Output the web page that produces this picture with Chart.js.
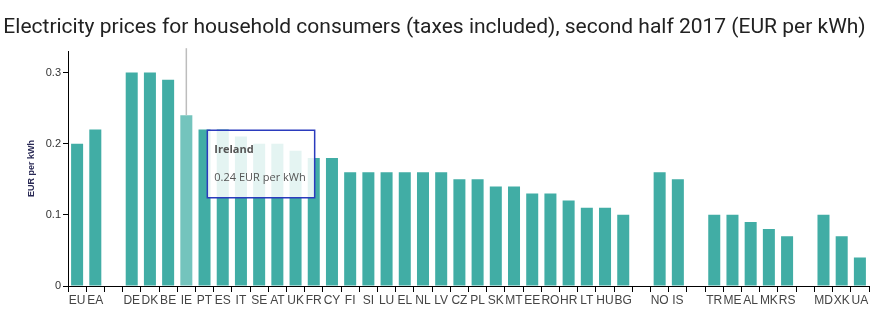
<!DOCTYPE html>
<html>
<head>
<meta charset="utf-8">
<script src="https://cdn.jsdelivr.net/npm/chart.js@4/dist/chart.umd.min.js"></script>
<style>
  html, body { margin: 0; padding: 0; background: #fff; }
  #wrap { width: 880px; height: 322px; }
</style>
</head>
<body>
<div id="wrap"><canvas id="c" width="880" height="322"></canvas></div>
<script>
// ---- data ----
const categories = ['EU','EA','','DE','DK','BE','IE','PT','ES','IT','SE','AT','UK','FR','CY','FI','SI','LU','EL','NL','LV','CZ','PL','SK','MT','EE','RO','HR','LT','HU','BG','','NO','IS','','TR','ME','AL','MK','RS','','MD','XK','UA'];
const countryNames = ['European Union','Euro area','','Germany','Denmark','Belgium','Ireland','Portugal','Spain','Italy','Sweden','Austria','United Kingdom','France','Cyprus','Finland','Slovenia','Luxembourg','Greece','Netherlands','Latvia','Czechia','Poland','Slovakia','Malta','Estonia','Romania','Croatia','Lithuania','Hungary','Bulgaria','','Norway','Iceland','','Turkey','Montenegro','Albania','North Macedonia','Serbia','','Moldova','Kosovo','Ukraine'];
const prices = [0.20,0.22,null,0.30,0.30,0.29,0.24,0.22,0.22,0.21,0.20,0.20,0.19,0.18,0.18,0.16,0.16,0.16,0.16,0.16,0.16,0.15,0.15,0.14,0.14,0.13,0.13,0.12,0.11,0.11,0.10,null,0.16,0.15,null,0.10,0.10,0.09,0.08,0.07,null,0.10,0.07,0.04];
const yTicks = [0, 0.1, 0.2, 0.3];
const titleText = 'Electricity prices for household consumers (taxes included), second half 2017 (EUR per kWh)';
const unitText = 'EUR per kWh';
const highlighted = 'IE';

const BAR = '#41ada5';
const BAR_HOVER = '#74c4bd';

Chart.Tooltip.positioners.besideBar = function(items) {
  if (!items.length) return false;
  const el = items[0].element;
  return { x: el.x + 21, y: el.y + 15, xAlign: 'left', yAlign: 'top' };
};

const hoverLine = {
  id: 'hoverLine',
  afterDatasetsDraw(chart) {
    const act = chart.getActiveElements();
    if (!act.length) return;
    const el = act[0].element;
    const ctx = chart.ctx;
    ctx.save();
    ctx.strokeStyle = '#bdbdbd';
    ctx.lineWidth = 1.5;
    ctx.beginPath();
    ctx.moveTo(el.x, chart.chartArea.top - 3);
    ctx.lineTo(el.x, el.y);
    ctx.stroke();
    ctx.restore();
  }
};

const chart = new Chart(document.getElementById('c'), {
  type: 'bar',
  data: {
    labels: categories,
    datasets: [{
      data: prices,
      backgroundColor: BAR,
      hoverBackgroundColor: BAR_HOVER,
      borderWidth: 0,
      categoryPercentage: 1.0,
      barPercentage: 0.66
    }]
  },
  options: {
    responsive: false,
    animation: false,
    events: [],
    layout: { padding: { left: 0, right: 11, top: 0, bottom: 0 } },
    plugins: {
      legend: { display: false },
      title: {
        display: true,
        text: titleText,
        color: '#222',
        font: { family: '"Liberation Sans Narrow", "Roboto", sans-serif', size: 21, weight: 'normal' },
        padding: { top: 15, bottom: 11 }
      },
      tooltip: {
        enabled: true,
        position: 'besideBar',
        xAlign: 'left',
        yAlign: 'top',
        caretSize: 0,
        caretPadding: 0,
        cornerRadius: 0,
        backgroundColor: 'rgba(255,255,255,0.86)',
        borderColor: '#2b3bbd',
        borderWidth: 1.5,
        titleColor: '#555',
        bodyColor: '#555',
        titleFont: { family: '"Open Sans", sans-serif', size: 11, weight: 'bold' },
        bodyFont: { family: '"Open Sans", sans-serif', size: 11 },
        padding: { top: 13, bottom: 13, left: 7, right: 9 },
        titleMarginBottom: 15,
        displayColors: false,
        callbacks: {
          title: (items) => countryNames[items[0].dataIndex],
          label: (ctx) => ctx.parsed.y.toFixed(2) + ' ' + unitText
        }
      }
    },
    scales: {
      x: {
        offset: true,
        grid: { offset: true, drawOnChartArea: false, drawTicks: true, tickLength: 6, color: '#000', lineWidth: 1 },
        border: { display: true, color: '#000', width: 1 },
        ticks: { autoSkip: false, maxRotation: 0, minRotation: 0, color: '#444', font: { family: 'Arial, "Liberation Sans", sans-serif', size: 12 }, padding: 1 },
        afterFit: (s) => { s.height = 36; }
      },
      y: {
        min: 0,
        max: 0.33,
        afterBuildTicks: (s) => { s.ticks = yTicks.map(v => ({ value: v })); },
        grid: { drawOnChartArea: false, drawTicks: true, tickLength: 5, color: '#000' },
        border: { display: true, color: '#000', width: 1 },
        ticks: {
          color: '#333',
          padding: 2,
          font: { family: 'Arial, "Liberation Sans", sans-serif', size: 11 },
          callback: (v) => v === 0 ? '0' : v.toFixed(1)
        },
        title: {
          display: true,
          text: unitText,
          color: '#2a2a55',
          font: { family: 'Arial, "Liberation Sans", sans-serif', size: 9, weight: 'bold' },
          padding: { top: 26, bottom: 0 }
        },
        afterFit: (s) => { s.width = 68; }
      }
    }
  },
  plugins: [hoverLine]
});

const idx = categories.indexOf(highlighted);
chart.setActiveElements([{ datasetIndex: 0, index: idx }]);
const meta = chart.getDatasetMeta(0).data[idx];
chart.tooltip.setActiveElements([{ datasetIndex: 0, index: idx }], { x: meta.x, y: meta.y });
chart.update();
</script>
</body>
</html>
